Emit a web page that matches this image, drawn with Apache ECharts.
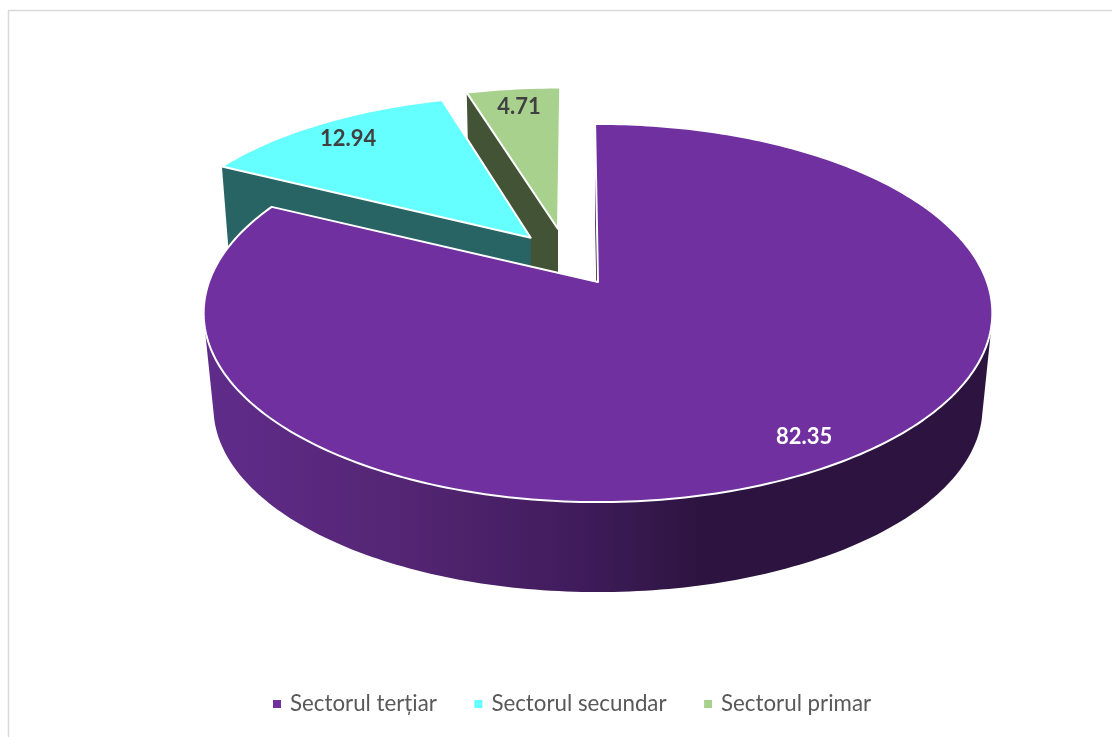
<!DOCTYPE html>
<html><head><meta charset="utf-8">
<style>html,body{margin:0;padding:0;background:#fff}#c{width:1112px;height:737px}</style>
<script src="https://cdn.jsdelivr.net/npm/echarts@6/dist/echarts.min.js"></script>
</head><body><div id="c"></div>
<script>
const categories = ['Sectorul terțiar', 'Sectorul secundar', 'Sectorul primar'];
const values = [82.35, 12.94, 4.71];
const topColors = ['#7030a0', '#66ffff', '#a9d18e'];
const wallColors = ['#2d1440', '#286464', '#435436'];
const labelColors = ['#ffffff', '#404040', '#404040'];

// Layout of the exploded 3D disc (perspective projection).
const layout = [
  {ax: 598, ay: 282, sx: 1, sy: 1, rot: 0},
  {ax: 530.7, ay: 237.7, sx: 0.963, sy: 0.9, rot: 1.57},
  {ax: 558, ay: 229, sx: 0.953, sy: 0.895, rot: 0.9}
];
const A = 389, B = 184, K = 0.164, DEPTH = 95.5, BOTTOM_SCALE = 0.975, START = -0.5, LABEL_R = [0.855, 0.87, 0.87];
const total = values.reduce((a, b) => a + b, 0);
const rad = d => d * Math.PI / 180;

function rim(i, deg, low) {
  const L = layout[i], t = rad(deg + L.rot), s = low ? BOTTOM_SCALE : 1;
  const x = Math.sin(t), y = Math.cos(t), w = 1 + K * y;
  return [L.ax + s * L.sx * A * x / w, L.ay + (low ? DEPTH : 0) - s * L.sy * B * y / w];
}
function apex(i, low) { return [layout[i].ax, layout[i].ay + (low ? DEPTH : 0)]; }
function arc(i, a, b, low) {
  const out = [], n = Math.max(2, Math.ceil(Math.abs(b - a)));
  for (let j = 0; j <= n; j++) out.push(rim(i, a + (b - a) * j / n, low));
  return out;
}
function hull(pts) {
  const p = pts.slice().sort((a, b) => a[0] - b[0] || a[1] - b[1]);
  const cross = (o, a, b) => (a[0]-o[0])*(b[1]-o[1]) - (a[1]-o[1])*(b[0]-o[0]);
  const lo = [], up = [];
  for (const q of p) { while (lo.length > 1 && cross(lo[lo.length-2], lo[lo.length-1], q) <= 0) lo.pop(); lo.push(q); }
  for (const q of p.slice().reverse()) { while (up.length > 1 && cross(up[up.length-2], up[up.length-1], q) <= 0) up.pop(); up.push(q); }
  return lo.slice(0, -1).concat(up.slice(0, -1));
}
function sliceAngles(i) {
  let a = START;
  for (let j = 0; j < i; j++) a += values[j] / total * 360;
  return [a, a + values[i] / total * 360];
}
const sideGradient = {type: 'linear', x: 207, y: 0, x2: 700, y2: 0, global: true, colorStops: [
  {offset: 0, color: '#602c8b'}, {offset: 0.4, color: '#542573'},
  {offset: 0.75, color: '#401c5c'}, {offset: 1, color: '#2d1440'}]};

function render(i) {
  return function (params, api) {
    const v = api.value(0);
    const [a0] = sliceAngles(i);
    const a1 = a0 + v / total * 360;
    const children = [];
    const wall = (pts, fill) => children.push({type: 'polygon', shape: {points: pts}, style: {fill: fill, stroke: null}});
    if (i === 0) {
      wall([apex(0), rim(0, a0), rim(0, a0, true), apex(0, true)], wallColors[0]);
      const outer = arc(0, 90, 270).concat(arc(0, 90, 270, true));
      wall(hull(outer), sideGradient);
    } else {
      wall([rim(i, a0), apex(i), apex(i, true), rim(i, a0, true)], wallColors[i]);
    }
    children.push({type: 'polygon', shape: {points: [apex(i)].concat(arc(i, a0, a1))},
      style: {fill: topColors[i], stroke: '#ffffff', lineWidth: 2, lineJoin: 'round'}});
    const m = (a0 + a1) / 2, p = rim(i, m), c = apex(i);
    children.push({type: 'text', style: {
      x: c[0] + (p[0] - c[0]) * LABEL_R[i], y: c[1] + (p[1] - c[1]) * LABEL_R[i],
      text: v.toFixed(2), fill: labelColors[i], font: 'bold 22px Lato, "Noto Sans", sans-serif',
      align: 'center', verticalAlign: 'middle'}, z2: 50});
    return {type: 'group', children: children};
  };
}
const chart = echarts.init(document.getElementById('c'), null, {renderer: 'canvas', width: 1112, height: 737});
chart.setOption({
  animation: false,
  backgroundColor: '#ffffff',
  graphic: [
    {type: 'line', silent: true, shape: {x1: 8, y1: 10.5, x2: 1112, y2: 10.5}, style: {stroke: '#d9d9d9', lineWidth: 1.5}},
    {type: 'line', silent: true, shape: {x1: 8.5, y1: 10, x2: 8.5, y2: 737}, style: {stroke: '#d9d9d9', lineWidth: 1.5}}
  ],
  legend: {
    data: categories, left: 268, top: 688, itemWidth: 8, itemHeight: 8, itemGap: 37.5, icon: 'rect',
    textStyle: {color: '#595959', fontSize: 22.3, fontFamily: 'Lato, "Noto Sans", sans-serif', padding: [0, 0, 0, 4]}
  },
  series: [2, 1, 0].map(i => ({
    type: 'custom', name: categories[i], coordinateSystem: 'none', z: 2 + (2 - i),
    itemStyle: {color: topColors[i]}, silent: true,
    data: [[values[i]]], renderItem: render(i)
  }))
});
</script></body></html>
